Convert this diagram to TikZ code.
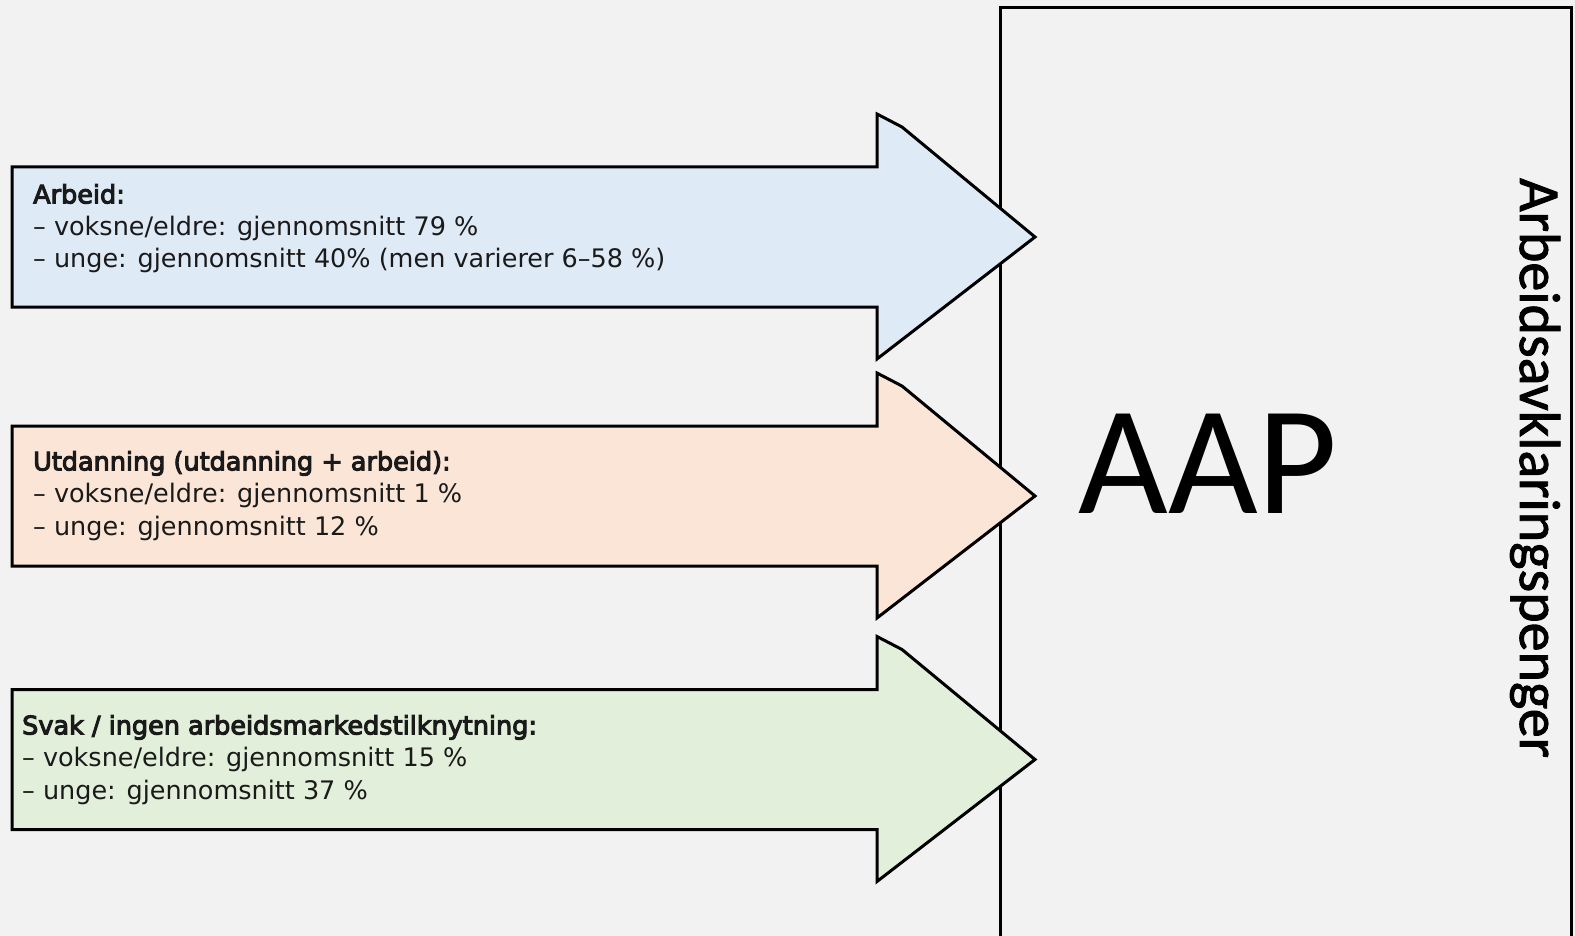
\documentclass[tikz,border=0pt]{standalone}
\usepackage{fontspec}
\setmainfont{DejaVu Sans}
\newfontfamily\hdrfont{DejaVu Sans}[BoldFont={DejaVu Sans},BoldFeatures={FakeBold=4}]
\newfontfamily\calfont{Carlito}
\newfontfamily\sidefont{Carlito}[FakeBold=1.5]
\definecolor{bg}{RGB}{242,242,242}
\definecolor{fblue}{RGB}{222,234,246}
\definecolor{forange}{RGB}{251,229,214}
\definecolor{fgreen}{RGB}{226,239,218}
\definecolor{txt}{RGB}{26,26,26}
\tikzset{
  arrowshape/.style={draw=black,line width=3pt,line join=miter},
  boxtext/.style={anchor=base west,inner sep=0pt,align=left,text=txt,font=\fontsize{25.5}{32.3}\selectfont},
  frame/.style={draw=black,line width=3pt}
}
\newcommand\arrowpath[2]{%
  \draw[arrowshape,fill=#2] (12,#1-70) -- (877,#1-70) -- (877,#1-123) -- (902,#1-110) -- (1035,#1) -- (877,#1+122) -- (877,#1+70) -- (12,#1+70) -- cycle;}
\begin{document}
\begin{tikzpicture}[x=1pt,y=-1pt]
\useasboundingbox (0,0) rectangle (1575,936);
\fill[bg] (0,0) rectangle (1575,936);
\clip (0,0) rectangle (1575,936);
\draw[frame] (1000,960) -- (1000,8) -- (1571,8) -- (1571,960);
\arrowpath{237}{fblue}
\arrowpath{496}{forange}
\arrowpath{759.5}{fgreen}
\node[boxtext] (t1) at (33,268) {{\hdrfont\bfseries Arbeid:}\\– voksne/eldre: gjennomsnitt 79 \%\\– unge: gjennomsnitt 40\% (men varierer 6–58 \%)};
\node[boxtext] (t2) at (33,535) {{\hdrfont\bfseries Utdanning (utdanning + arbeid):}\\– voksne/eldre: gjennomsnitt 1 \%\\– unge: gjennomsnitt 12 \%};
\node[boxtext] (t3) at (22,799) {{\hdrfont\bfseries Svak / ingen arbeidsmarkedstilknytning:}\\– voksne/eldre: gjennomsnitt 15 \%\\– unge: gjennomsnitt 37 \%};
\node[anchor=base,inner sep=0pt,font=\calfont\fontsize{155}{160}\selectfont] (aap) at (1208,513) {AAP};
\node[anchor=base,inner sep=0pt,rotate=-90,font=\sidefont\fontsize{58}{60}\selectfont] (side) at (1520,468) {Arbeidsavklaringspenger};
\end{tikzpicture}
\end{document}
